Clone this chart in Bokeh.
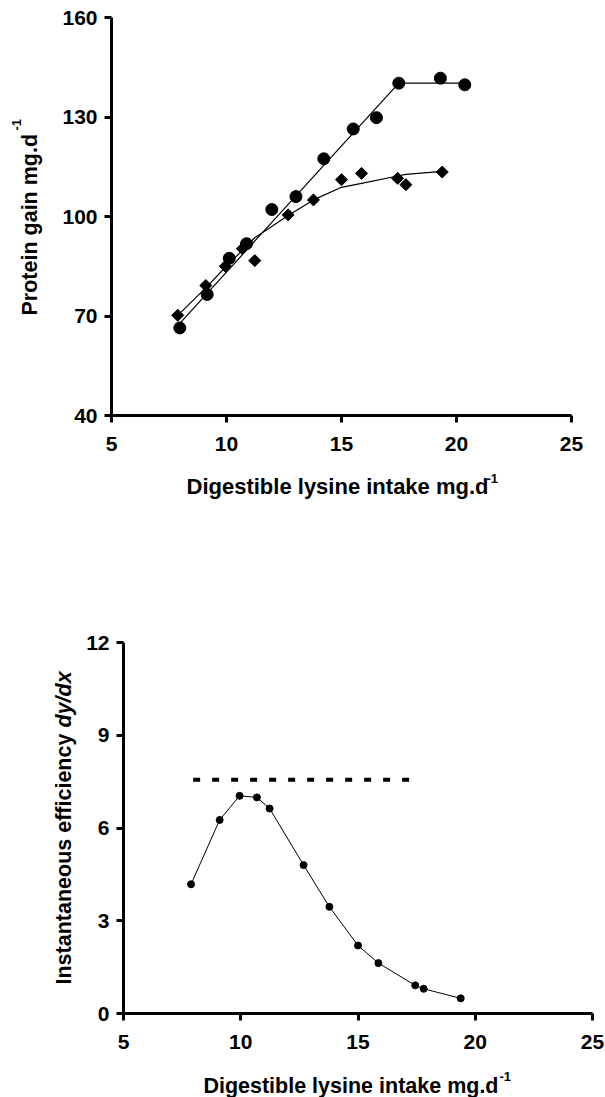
import numpy as np
from bokeh.plotting import figure
from bokeh.models import Range1d, FixedTicker, Label
from bokeh.layouts import column
from bokeh.embed import file_html
from bokeh.resources import INLINE

# ---------------- data ----------------
# Series A (circles) with broken-line fit
lysine_a = [7.97, 9.16, 10.12, 10.87, 11.97, 13.02, 14.23, 15.51, 16.52, 17.49, 19.30, 20.36]
gain_a = [66.4, 76.5, 87.4, 91.8, 102.1, 106.0, 117.4, 126.4, 129.8, 140.2, 141.7, 139.7]
broken_x = [7.97, 17.49, 20.36]
broken_y = [67.8, 140.2, 140.2]

# Series B (diamonds) with curvilinear fit
lysine_b = [7.88, 9.10, 9.95, 10.69, 11.23, 12.68, 13.78, 15.00, 15.87, 17.44, 17.80, 19.38]
gain_b = [70.2, 79.2, 85.0, 90.3, 86.7, 100.5, 105.0, 111.1, 113.0, 111.5, 109.6, 113.4]
fit_b = [70.2, 78.5, 84.7, 89.8, 93.6, 100.3, 105.0, 108.8, 110.0, 112.2, 112.7, 113.6]

# Instantaneous efficiency (dy/dx) of the curvilinear fit
efficiency = [4.18, 6.26, 7.04, 6.99, 6.63, 4.80, 3.45, 2.20, 1.63, 0.91, 0.80, 0.49]
max_eff = 7.56
max_eff_x = [7.97, 17.49]

x_ticks = [5, 10, 15, 20, 25]
y_ticks_top = [40, 70, 100, 130, 160]
y_ticks_bot = [0, 3, 6, 9, 12]
x_lim = (5, 25)
y_lim_top = (40, 160)
y_lim_bot = (0, 12)

FONT = "Liberation Sans"
W = 605


class Geo:
    """pixel geometry of one chart's plotting area inside its canvas"""

    def __init__(self, left, right, top, bottom, height, xlim, ylim, page_off):
        self.l, self.r, self.t, self.b, self.h = left, right, top, bottom, height
        self.xlim, self.ylim, self.off = xlim, ylim, page_off
        self.kx = (xlim[1] - xlim[0]) / (right - left)
        self.ky = (ylim[1] - ylim[0]) / (bottom - top)

    def x(self, px):
        return self.xlim[0] + (px - self.l) * self.kx

    def y(self, py):  # py in page pixels
        return self.ylim[1] - (py - self.off - self.t) * self.ky

    def xr(self):
        return Range1d(self.x(0), self.x(W))

    def yr(self):
        return Range1d(self.y(self.off + self.h), self.y(self.off))


def make_fig(g, xt, yt):
    p = figure(width=W, height=g.h, x_range=g.xr(), y_range=g.yr(),
               output_backend="svg", toolbar_location=None, min_border=0)
    p.xgrid.visible = False
    p.ygrid.visible = False
    p.outline_line_color = None
    p.background_fill_color = "white"
    p.border_fill_color = "white"
    p.xaxis.ticker = FixedTicker(ticks=xt)
    p.yaxis.ticker = FixedTicker(ticks=yt)
    p.xaxis.fixed_location = g.ylim[0]
    p.yaxis.fixed_location = g.xlim[0]
    p.xaxis.bounds = g.xlim
    p.yaxis.bounds = g.ylim
    for ax in (p.xaxis[0], p.yaxis[0]):
        ax.axis_line_width = 3
        ax.axis_line_color = "black"
        ax.major_tick_line_width = 3
        ax.major_tick_line_color = "black"
        ax.major_tick_in = 0
        ax.major_tick_out = 7
        ax.minor_tick_line_color = None
        ax.major_label_text_font = FONT
        ax.major_label_text_font_style = "bold"
        ax.major_label_text_font_size = "21px"
        ax.major_label_text_color = "black"
    p.xaxis.major_label_standoff = 14
    p.yaxis.major_label_standoff = 7
    return p


def lab(p, x, y, text, size, angle=0.0, align="left", style_="bold"):
    p.add_layout(Label(x=x, y=y, text=text, angle=angle, text_align=align,
                       text_baseline="alphabetic", text_font=FONT,
                       text_font_style=style_, text_font_size=size,
                       text_color="black"))


# ---------------- top chart ----------------
g1 = Geo(111, 571, 17, 415, 560, x_lim, y_lim_top, 0)
p1 = make_fig(g1, x_ticks, y_ticks_top)

p1.line(broken_x, broken_y, line_color="black", line_width=1.2)
p1.line(lysine_b, fit_b, line_color="black", line_width=1.2)
p1.scatter(lysine_a, gain_a, marker="circle", size=12, fill_color="black", line_color="black")
p1.scatter(lysine_b, gain_b, marker="square", angle=np.pi / 4, size=8.5,
           fill_color="black", line_color="black")

lab(p1, g1.x(488), g1.y(486), "Digestible lysine intake mg.d", "22px", align="right")
lab(p1, g1.x(486), g1.y(478), "-1", "13px")
lab(p1, g1.x(29), g1.y(315), "Protein gain mg.d", "21.5px", angle=np.pi / 2)
lab(p1, g1.x(16), g1.y(130), "-1", "13px", angle=np.pi / 2)

# ---------------- bottom chart ----------------
g2 = Geo(123, 592, 82, 453, 537, x_lim, y_lim_bot, 560)
p2 = make_fig(g2, x_ticks, y_ticks_bot)

p2.line(max_eff_x, [max_eff, max_eff], line_color="black", line_width=4,
        line_dash="7 12", line_cap="butt")
p2.line(lysine_b, efficiency, line_color="black", line_width=1)
p2.scatter(lysine_b, efficiency, marker="circle", size=7, fill_color="black", line_color="black")

lab(p2, g2.x(498), g2.y(1085), "Digestible lysine intake mg.d", "21.5px", align="right")
lab(p2, g2.x(499), g2.y(1076), "-1", "13px")
lab(p2, g2.x(63), g2.y(984), "Instantaneous efficiency", "21.5px", angle=np.pi / 2)
lab(p2, g2.x(63), g2.y(727), "dy/dx", "21.5px", angle=np.pi / 2, style_="bold italic")

layout = column(p1, p2, spacing=0)
open("out.html", "w").write(file_html(layout, INLINE))
